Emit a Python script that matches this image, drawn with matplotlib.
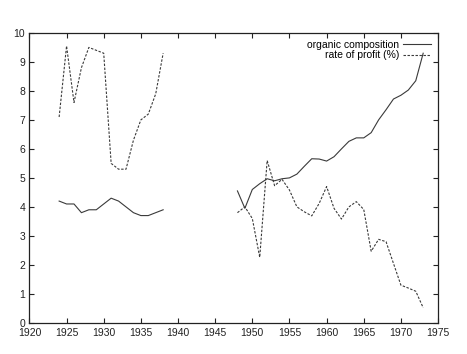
import matplotlib
matplotlib.use("Agg")
import matplotlib.pyplot as plt
import numpy as np

INK = "#3a3a3a"

# pre-war series
years_pre = list(range(1924, 1939))
organic_pre = [4.2, 4.1, 4.1, 3.8, 3.9, 3.9, 4.1, 4.3, 4.2, 4.0, 3.8, 3.7, 3.7, 3.8, 3.9]
profit_pre = [7.1, 9.55, 7.6, 8.8, 9.5, 9.4, 9.3, 5.5, 5.3, 5.3, 6.3, 7.0, 7.2, 7.9, 9.3]

# post-war series
years_post = list(range(1948, 1974))
organic_post = [4.55, 3.95, 4.6, 4.8, 4.97, 4.9, 4.97, 5.0, 5.13, 5.4, 5.66, 5.65, 5.58,
                5.73, 6.0, 6.26, 6.38, 6.38, 6.56, 7.0, 7.35, 7.72, 7.85, 8.03, 8.35, 9.3]
profit_post = [3.8, 4.0, 3.6, 2.26, 5.6, 4.73, 4.95, 4.58, 4.0, 3.83, 3.69, 4.12, 4.7,
               3.95, 3.58, 4.0, 4.18, 3.91, 2.47, 2.88, 2.8, 2.05, 1.3, 1.2, 1.09, 0.52]

plt.rcParams.update({
    "font.family": ["Liberation Sans", "DejaVu Sans"],
    "font.size": 7.5,
    "axes.linewidth": 0.9,
    "axes.edgecolor": "#222222",
    "xtick.direction": "in", "ytick.direction": "in",
    "xtick.top": True, "ytick.right": True,
    "xtick.major.size": 3.5, "ytick.major.size": 3.5,
    "xtick.color": "#222222", "ytick.color": "#222222",
})

fig = plt.figure(figsize=(4.67, 3.54), dpi=100)
ax = fig.add_axes([0.063, 0.088, 0.875, 0.819])

dash = (0, (2.2, 1.4))
ax.plot(years_pre, organic_pre, color=INK, lw=0.8, label="organic composition")
ax.plot(years_pre, profit_pre, color=INK, lw=0.8, ls=dash, label="rate of profit (%)")
ax.plot(years_post, organic_post, color=INK, lw=0.8)
ax.plot(years_post, profit_post, color=INK, lw=0.8, ls=dash)

ax.set_xlim(1920, 1975)
ax.set_ylim(0, 10)
ax.set_xticks(np.arange(1920, 1976, 5))
ax.set_yticks(np.arange(0, 11, 1))
ax.tick_params(axis="x", labelsize=7.5, pad=3.5)
ax.tick_params(axis="y", labelsize=7.5, pad=3)

ax.legend(loc="upper right", frameon=False, markerfirst=False, handlelength=2.7,
          handletextpad=0.4, labelspacing=0.05, borderaxespad=0.25, fontsize=7.5)

fig.savefig("out.png", dpi=100)
